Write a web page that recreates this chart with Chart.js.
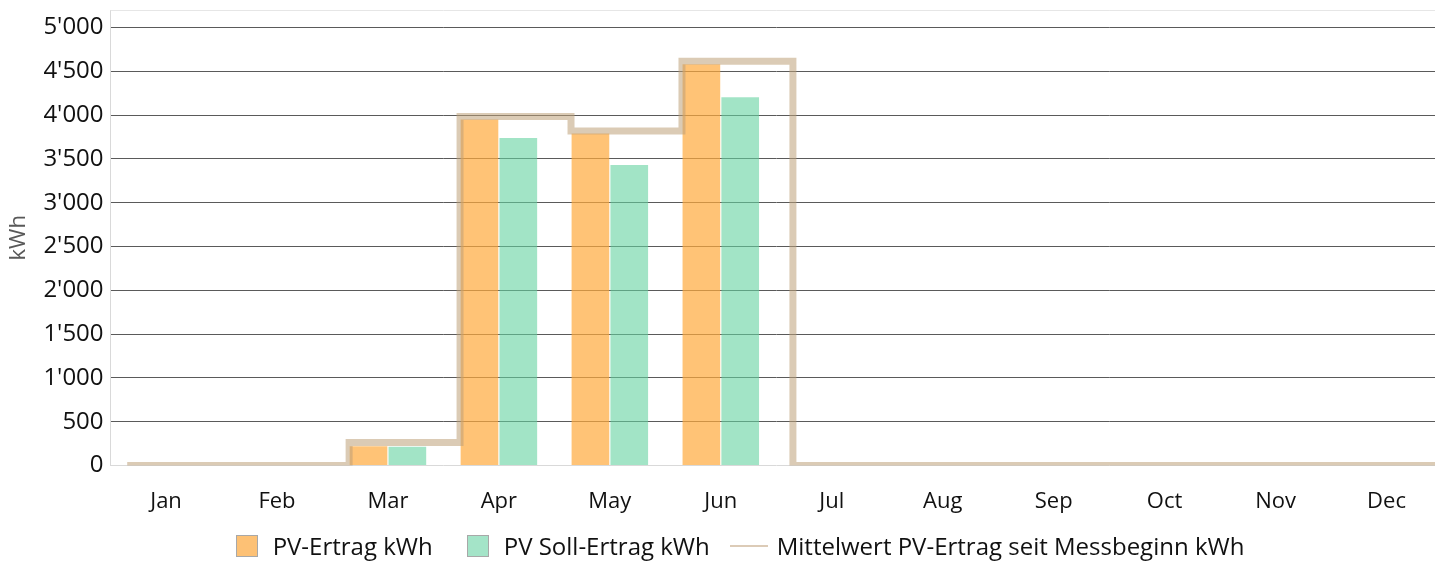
<!DOCTYPE html>
<html>
<head>
<meta charset="utf-8">
<script src="https://cdn.jsdelivr.net/npm/chart.js@4.4.1/dist/chart.umd.min.js"></script>
<style>
  html, body { margin: 0; padding: 0; background: #fff; overflow: hidden; }
  #wrap { position: relative; width: 1472px; height: 561px; }
  #legend {
    position: absolute; left: 4px; top: 529px; width: 1472px;
    display: flex; justify-content: center; align-items: center;
    font-family: 'Open Sans', sans-serif; font-size: 24px; color: #111;
  }
  #legend .item { display: flex; align-items: center; margin: 0 17px; }
  #legend .item.lineItem { margin-left: 3px; }
  #legend .box { width: 20px; height: 20px; border: 1px solid #a8a8a8; margin-right: 15px; }
  #legend .line { width: 38px; height: 2px; margin-right: 9px; }
</style>
</head>
<body>
<div id="wrap"><canvas id="chart"></canvas><div id="legend"></div></div>
<script>
const months = ["Jan", "Feb", "Mar", "Apr", "May", "Jun", "Jul", "Aug", "Sep", "Oct", "Nov", "Dec"];
const pvErtrag = [0, 0, 220, 3950, 3790, 4580, 0, 0, 0, 0, 0, 0];
const pvSoll = [0, 0, 215, 3740, 3430, 4205, 0, 0, 0, 0, 0, 0];
const mittelwert = [0, 0, 265, 3985, 3820, 4615, 0, 0, 0, 0, 0, 0];
const yTicks = [0, 500, 1000, 1500, 2000, 2500, 3000, 3500, 4000, 4500, 5000];
const seriesNames = ["PV-Ertrag kWh", "PV Soll-Ertrag kWh", "Mittelwert PV-Ertrag seit Messbeginn kWh"];

const FONT = "'Open Sans', sans-serif";

// month i sits at x = i on a linear axis so the step line can start at each bar group's left edge
const barGroup = 0.7;
const toPoints = arr => arr.map((v, i) => ({ x: i, y: v }));
const linePoints = mittelwert.map((v, i) => ({ x: i - barGroup / 2, y: v }));
linePoints.push({ x: months.length - 0.5, y: mittelwert[mittelwert.length - 1] });

function fmt(v) {
  return String(v).replace(/\B(?=(\d{3})+(?!\d))/g, "'");
}

// faint frame line along the top of the plot
const topBorder = {
  id: "topBorder",
  beforeDatasetsDraw(chart) {
    const { ctx, chartArea } = chart;
    ctx.save();
    ctx.strokeStyle = "#e6e6e6";
    ctx.lineWidth = 1;
    ctx.beginPath();
    ctx.moveTo(chartArea.left, chartArea.top + 0.5);
    ctx.lineTo(chartArea.right, chartArea.top + 0.5);
    ctx.stroke();
    ctx.restore();
  }
};

new Chart(document.getElementById("chart"), {
  type: "bar",
  data: {
    datasets: [
      {
        label: seriesNames[0],
        data: toPoints(pvErtrag),
        backgroundColor: "rgba(255,170,60,0.7)",
        order: 1
      },
      {
        label: seriesNames[1],
        data: toPoints(pvSoll),
        backgroundColor: "rgba(100,210,160,0.6)",
        order: 1
      },
      {
        type: "line",
        label: seriesNames[2],
        data: linePoints,
        borderColor: "rgba(190,160,120,0.55)",
        borderWidth: 7,
        borderJoinStyle: "miter",
        stepped: true,
        pointRadius: 0,
        fill: false,
        order: 0
      }
    ]
  },
  options: {
    responsive: true,
    maintainAspectRatio: false,
    animation: false,
    categoryPercentage: barGroup,
    barPercentage: 0.97,
    layout: { padding: { top: 10, right: 30, left: 6, bottom: 31 } },
    plugins: {
      tooltip: { enabled: false },
      legend: { display: false }
    },
    scales: {
      x: {
        type: "linear",
        offset: false,
        min: -0.5,
        max: months.length - 0.5,
        afterBuildTicks(axis) {
          axis.ticks = months.map((m, i) => ({ value: i }));
        },
        grid: { display: false },
        border: { display: false },
        ticks: {
          color: "#111",
          padding: 15,
          font: { family: FONT, size: 22 },
          callback: v => months[v]
        }
      },
      y: {
        min: 0,
        max: 5200,
        afterBuildTicks(axis) {
          axis.ticks = yTicks.map(v => ({ value: v }));
        },
        afterFit(axis) {
          axis.paddingTop = 0;
        },
        grid: {
          drawTicks: false,
          color: ctx => (ctx.tick && ctx.tick.value === 0 ? "#d9d9d9" : "#5a5a5a"),
          lineWidth: 1
        },
        border: { display: true, color: "#d9d9d9" },
        ticks: {
          color: "#111",
          padding: 7,
          font: { family: FONT, size: 24 },
          callback: v => fmt(v)
        },
        title: {
          display: true,
          text: "kWh",
          color: "#595959",
          padding: { top: 0, bottom: 4 },
          font: { family: FONT, size: 22 }
        }
      }
    }
  },
  plugins: [topBorder]
});

// legend
const legendColors = ["#fdc175", "#a4e4c8", "#dccbb7"];
const legendEl = document.getElementById("legend");
seriesNames.forEach((name, i) => {
  const item = document.createElement("div");
  item.className = i === 2 ? "item lineItem" : "item";
  const mark = document.createElement("span");
  mark.className = i === 2 ? "line" : "box";
  mark.style.background = legendColors[i];
  const label = document.createElement("span");
  label.textContent = name;
  item.appendChild(mark);
  item.appendChild(label);
  legendEl.appendChild(item);
});
</script>
</body>
</html>
